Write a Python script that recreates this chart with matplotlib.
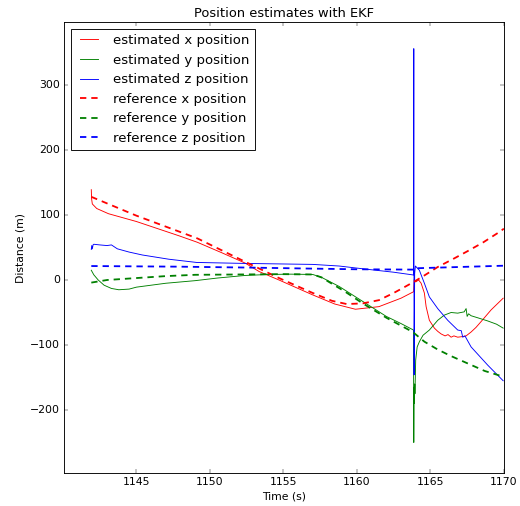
import matplotlib
matplotlib.use("Agg")
import matplotlib.pyplot as plt

# estimated x position (EKF)
t_est_x = [1141.93, 1141.95, 1142.0, 1142.3, 1143.1, 1145.0, 1147.9, 1149.15, 1150.8, 1152.4,
           1153.35, 1154.7, 1157.0, 1158.5, 1159.9, 1161.5, 1163.0, 1163.86, 1163.9, 1164.0,
           1164.2, 1164.37, 1164.59, 1164.71, 1164.93, 1165.27, 1165.5, 1165.73, 1166.0, 1166.2,
           1166.41, 1166.6, 1166.86, 1167.2, 1167.43, 1167.77, 1168.1, 1168.45, 1169.13, 1169.95]
est_x = [139, 125, 117, 110, 102, 90, 68, 58, 42, 26,
         13, 0, -23, -37, -45, -41, -28, -18, 1, -3,
         0, -5, -20, -41, -62, -74, -79, -83, -86, -84,
         -88, -86, -88, -87, -86, -80, -73, -64, -46, -28]

# estimated y position (EKF)
t_est_y = [1141.93, 1142.1, 1142.4, 1142.8, 1143.3, 1143.8, 1144.5, 1145.0, 1147.0, 1149.0,
           1150.5, 1152.4, 1154.0, 1155.5, 1157.0, 1157.6, 1158.8, 1160.4, 1162.0, 1163.0,
           1163.85, 1163.87, 1163.89, 1163.91, 1163.93, 1163.95, 1164.0, 1164.1, 1164.25, 1164.5,
           1164.93, 1165.5, 1165.95, 1166.41, 1166.86, 1167.3, 1167.43, 1167.5, 1167.6, 1167.77,
           1168.2, 1168.9, 1169.5, 1169.95]
est_y = [15, 8, 0, -8, -13, -15, -14, -11, -5, -1,
         3, 7, 8.5, 9, 8.5, 4, -10, -33, -56, -67,
         -77, -250, -165, -190, -160, -175, -123, -103, -95, -85,
         -77, -62, -54, -50, -51, -49, -44, -56, -52, -55,
         -58, -63, -68, -74]

# estimated z position (EKF)
t_est_z = [1141.93, 1141.96, 1142.0, 1142.05, 1142.1, 1142.5, 1143.0, 1143.3, 1143.5, 1143.7,
           1144.5, 1145.4, 1147.2, 1149.1, 1152.4, 1157.0, 1158.8, 1160.5, 1162.5, 1163.85,
           1163.87, 1163.89, 1163.93, 1163.98, 1164.25, 1164.59, 1164.93, 1165.5, 1166.18, 1166.86,
           1167.1, 1167.2, 1167.35, 1167.77, 1168.9, 1169.95]
est_z = [47, 53, 48, 54, 55, 54, 53, 54, 51, 48,
         43, 38.5, 32, 27, 25.5, 24, 21.5, 17, 12, 7.7,
         356, -146, 10, 21.5, 15, -5, -26, -44, -62, -77,
         -78, -88, -86, -103, -131, -155]

# reference trajectory
t_ref_x = [1141.93, 1145.0, 1149.15, 1152.4, 1154.7, 1157.0, 1158.3, 1159.3, 1160.4, 1161.5,
           1162.5, 1163.23, 1163.86, 1164.59, 1165.5, 1166.6, 1167.5, 1168.6, 1169.7, 1170.0]
ref_x = [128, 99, 64, 28, 3, -20, -32, -37, -36, -31,
         -20, -11, -3, 7, 20, 33, 44, 58, 74, 79]

t_ref_y = [1141.93, 1143.0, 1145.0, 1147.0, 1149.0, 1152.0, 1155.0, 1157.0, 1157.6, 1158.1,
           1159.2, 1160.4, 1162.0, 1163.8, 1164.6, 1165.5, 1166.4, 1167.3, 1168.7, 1170.0]
ref_y = [-4, 0, 3, 6, 8, 8.5, 9, 8.5, 4, -3,
         -18, -36, -58, -80, -95, -107, -117, -126, -140, -149]

t_ref_z = [1141.93, 1148.0, 1153.0, 1157.0, 1160.0, 1163.86, 1163.9, 1170.0]
ref_z = [21.5, 20.5, 19, 17.5, 16.5, 16, 18, 22]

plt.style.use('classic')
fig = plt.figure(figsize=(8, 506 / 65.0), dpi=65, facecolor='white')
ax = fig.add_subplot(111)
fig.subplots_adjust(left=0.123, right=0.969, bottom=0.0652, top=0.9565)

dash = (7, 5.5)
ax.plot(t_est_x, est_x, color='red', lw=1, label='estimated x position')
ax.plot(t_est_y, est_y, color='green', lw=1, label='estimated y position')
ax.plot(t_est_z, est_z, color='blue', lw=1, label='estimated z position')
ax.plot(t_ref_x, ref_x, color='red', ls='--', dashes=dash, lw=2, label='reference x position')
ax.plot(t_ref_y, ref_y, color='green', ls='--', dashes=dash, lw=2, label='reference y position')
ax.plot(t_ref_z, ref_z, color='blue', ls='--', dashes=dash, lw=2, label='reference z position')

ax.set_xlim(1140.07, 1170)
ax.set_ylim(-297, 397)
ax.ticklabel_format(useOffset=False)
ax.set_title('Position estimates with EKF')
ax.set_xlabel('Time (s)')
ax.set_ylabel('Distance (m)')
ax.legend(loc='upper left', prop={'size': 14.7})

fig.savefig('out.png', dpi=65, facecolor='white')
